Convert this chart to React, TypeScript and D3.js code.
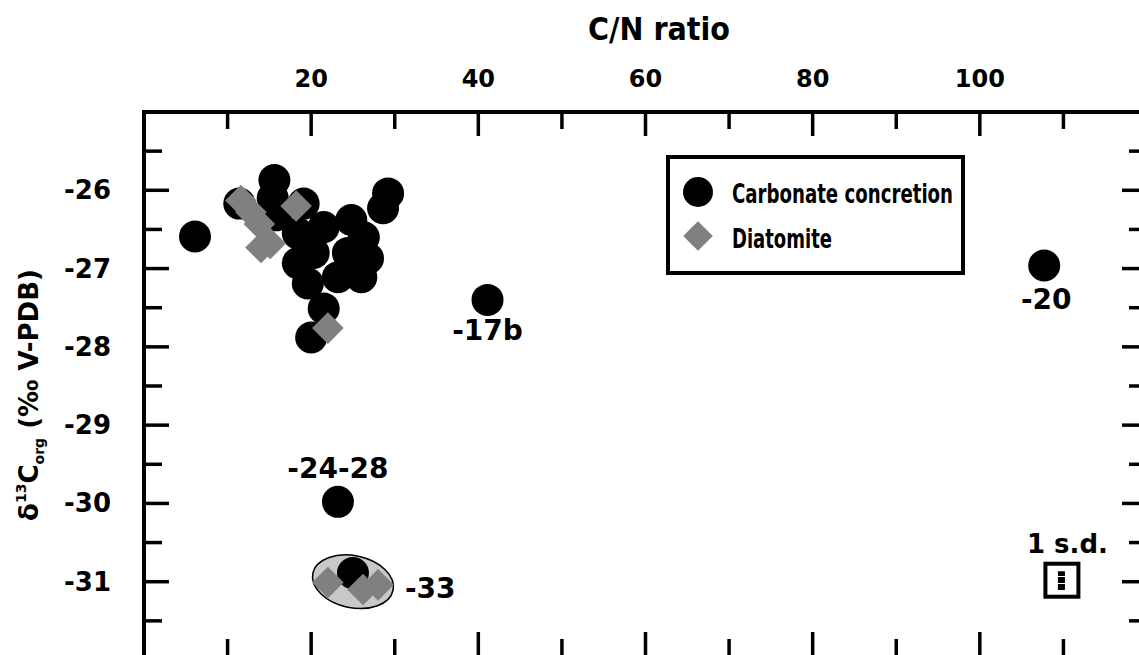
import React from 'react';
import * as d3 from 'd3';

// Carbonate concretion samples (C/N ratio, d13C org)
const concretionCN = [6.1, 11.4, 15.6, 15.4, 15.8, 19.1, 29.2, 28.6, 18.4, 21.5, 24.8, 26.3, 26.8, 26.0, 23.2, 19.6, 18.4, 20.3, 24.4, 21.5, 20.0, 41.1, 107.7, 23.2, 25.0];
const concretionD13C = [-26.59, -26.17, -25.87, -26.1, -26.32, -26.17, -26.04, -26.23, -26.55, -26.47, -26.38, -26.6, -26.87, -27.11, -27.11, -27.19, -26.93, -26.8, -26.8, -27.51, -27.88, -27.4, -26.96, -29.98, -30.89];

// Diatomite samples
const diatomiteCN = [11.6, 12.8, 13.8, 14.0, 15.1, 18.2, 22.0, 22.0, 26.2, 28.0];
const diatomiteD13C = [-26.13, -26.28, -26.43, -26.73, -26.68, -26.2, -27.76, -31.01, -31.1, -31.04];

// sample labels
const sampleLabels = ['-17b', '-20', '-24-28', '-33'];
const labelCN = [41.1, 107.7, 23.2, 25.0];
const labelD13C = [-27.4, -26.96, -29.98, -30.95];

const xTickLabels = [20, 40, 60, 80, 100];
const yTickLabels = [-26, -27, -28, -29, -30, -31];

const sdCN = 110;
const sdD13C = -31;
const sdHalf = 0.12;

const width = 1139;
const height = 655;
const numFont = "'DejaVu Sans', sans-serif";
const narrowFont = "'DejaVu Sans Condensed', 'DejaVu Sans', sans-serif";

export default function App() {
  const x = d3.scaleLinear().domain([0, 120]).range([144, 1147]);
  const y = d3.scaleLinear().domain([-32, -25]).range([660, 112]);

  const left = x(0), right = x(120), top = y(-25), bottom = y(-32);

  const xTicks = d3.range(0, 121, 10);
  const yTicks = d3.range(-32, -24.9, 0.5);

  const diamond = d3.symbol().type(d3.symbolSquare).size(500)();
  const legendDiamond = d3.symbol().type(d3.symbolSquare).size(440)();

  const concretion = concretionCN.map((c, i) => ({ cn: c, d: concretionD13C[i] }));
  const diatomite = diatomiteCN.map((c, i) => ({ cn: c, d: diatomiteD13C[i] }));

  // label offsets relative to their sample point
  const labelOffsets: [number, number, string][] = [
    [0, 40, 'middle'],
    [2, 44, 'middle'],
    [0, -24, 'middle'],
    [52, 20, 'start'],
  ];

  return (
    <svg width={width} height={height} style={{ position: 'absolute', left: 0, top: 0, background: '#fff' }}>
      {/* axis titles */}
      <text x={588} y={40} textLength={142} lengthAdjust="spacingAndGlyphs" fontFamily={narrowFont} fontWeight="bold" fontSize={32}>
        C/N ratio
      </text>
      <text
        transform={`translate(38,${395}) rotate(-90)`}
        textAnchor="middle"
        fontFamily={numFont}
        fontWeight="bold"
        fontSize={26}
      >
        δ<tspan fontSize={14} dy={-12}>13</tspan>
        <tspan dy={12}>C</tspan>
        <tspan fontSize={14} dy={6}>org</tspan>
        <tspan dy={-6}> (‰ V-PDB)</tspan>
      </text>

      {/* tick labels */}
      {xTickLabels.map(t => (
        <text key={t} x={x(t)} y={87} textAnchor="middle" fontFamily={numFont} fontWeight="bold" fontSize={24}>
          {t}
        </text>
      ))}
      {yTickLabels.map(t => (
        <text key={t} x={111} y={y(t) + 9} textAnchor="end" fontFamily={numFont} fontWeight="bold" fontSize={26}>
          {t}
        </text>
      ))}

      {/* frame ticks */}
      <g stroke="#000" strokeWidth={3.5}>
        {xTicks.map(t => {
          const len = t % 20 === 0 ? 24 : 17;
          return (
            <g key={t}>
              <line x1={x(t)} x2={x(t)} y1={top} y2={top + len} />
              <line x1={x(t)} x2={x(t)} y1={bottom} y2={bottom - len - 4} />
            </g>
          );
        })}
        {yTicks.map(t => {
          const len = Number.isInteger(t) ? 25 : 18;
          return (
            <g key={t}>
              <line x1={left} x2={left + len} y1={y(t)} y2={y(t)} />
              <line x1={right} x2={right - len} y1={y(t)} y2={y(t)} />
            </g>
          );
        })}
      </g>
      <rect x={left} y={top} width={right - left} height={bottom - top} fill="none" stroke="#000" strokeWidth={4} />

      {/* group outline around -33 */}
      <ellipse
        cx={x(25.0)}
        cy={y(-31.0)}
        rx={41}
        ry={26}
        transform={`rotate(12,${x(25.0)},${y(-31.0)})`}
        fill="#c8c8c8"
        stroke="#000"
        strokeWidth={1.5}
      />

      {/* points */}
      {concretion.map((d, i) => (
        <circle key={'c' + i} cx={x(d.cn)} cy={y(d.d)} r={16} fill="#000" />
      ))}
      {diatomite.map((d, i) => (
        <path key={'d' + i} d={diamond} transform={`translate(${x(d.cn)},${y(d.d)}) rotate(45)`} fill="#808080" />
      ))}

      {/* sample labels */}
      {sampleLabels.map((s, i) => (
        <text
          key={s}
          x={x(labelCN[i]) + labelOffsets[i][0]}
          y={y(labelD13C[i]) + labelOffsets[i][1]}
          textAnchor={labelOffsets[i][2] as any}
          fontFamily={numFont}
          fontWeight="bold"
          fontSize={28}
        >
          {s}
        </text>
      ))}

      {/* legend */}
      <rect x={668} y={157} width={295} height={116} fill="#fff" stroke="#000" strokeWidth={4} />
      <circle cx={698} cy={192} r={15} fill="#000" />
      <text x={732} y={203} textLength={221} lengthAdjust="spacingAndGlyphs" fontFamily={narrowFont} fontWeight="bold" fontSize={27}>
        Carbonate concretion
      </text>
      <path d={legendDiamond} transform="translate(698,236) rotate(45)" fill="#808080" />
      <text x={732} y={248} textLength={100} lengthAdjust="spacingAndGlyphs" fontFamily={narrowFont} fontWeight="bold" fontSize={27}>
        Diatomite
      </text>

      {/* 1 s.d. */}
      <text x={x(sdCN) + 4} y={553} textAnchor="middle" fontFamily={numFont} fontWeight="bold" fontSize={26}>
        1 s.d.
      </text>
      <rect x={x(sdCN) - 18} y={y(sdD13C) - 18} width={33} height={33} fill="none" stroke="#000" strokeWidth={4} />
      <line
        x1={x(sdCN) - 2}
        x2={x(sdCN) - 2}
        y1={y(sdD13C - sdHalf) - 1}
        y2={y(sdD13C + sdHalf) - 1}
        stroke="#000"
        strokeWidth={7}
        strokeDasharray="6,1"
      />
    </svg>
  );
}
